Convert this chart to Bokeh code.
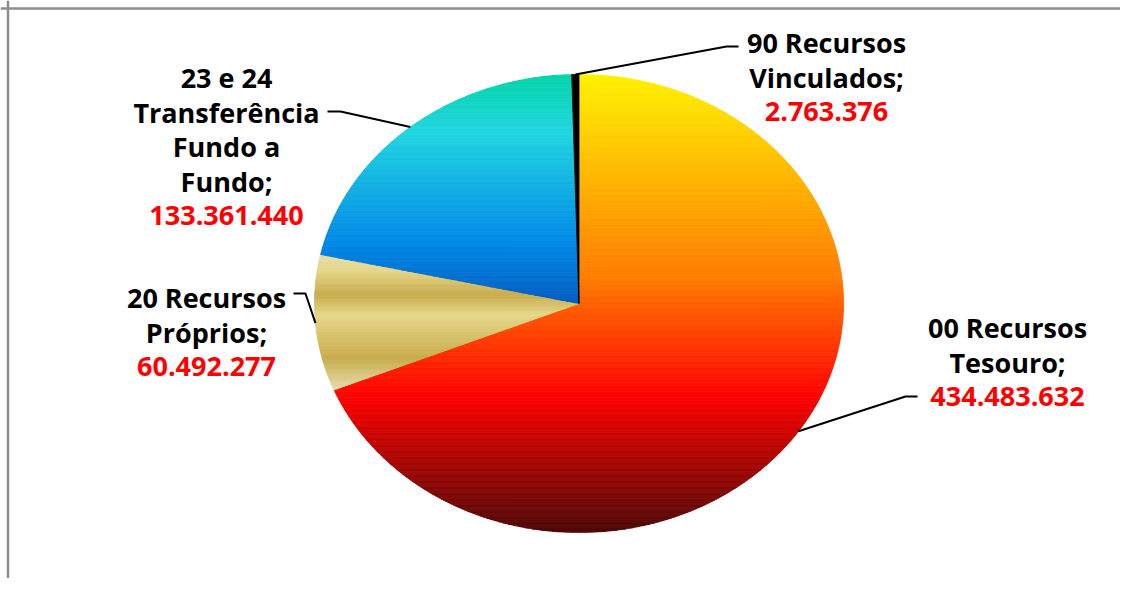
import numpy as np
from bokeh.plotting import figure
from bokeh.models import Range1d, Span
from bokeh.core.properties import value
from bokeh.embed import file_html
from bokeh.resources import INLINE

# ---------------- data ----------------
categories = ["00 Recursos Tesouro", "20 Recursos Próprios",
              "23 e 24 Transferência Fundo a Fundo", "90 Recursos Vinculados"]
name_lines = [["00 Recursos", "Tesouro;"],
              ["20 Recursos", "Próprios;"],
              ["23 e 24", "Transferência", "Fundo a", "Fundo;"],
              ["90 Recursos", "Vinculados;"]]
values = [434483632, 60492277, 133361440, 2763376]

# gradient presets (Excel "Fire", "Gold", "Ocean") + solid black
gradients = [
    [(0.0, "#FFF200"), (0.45, "#FF7A00"), (0.70, "#FF0300"), (1.0, "#4D0808")],
    [(0.0, "#E6DCAC"), (0.12, "#E6D78A"), (0.30, "#C7AC4C"), (0.45, "#E6D78A"),
     (0.77, "#C7AC4C"), (1.0, "#E6DCAC")],
    [(0.0, "#03D4A8"), (0.25, "#21D6E0"), (0.75, "#0087E6"), (1.0, "#005CBF")],
    [(0.0, "#000000"), (1.0, "#000000")],
]

# ---------------- layout ----------------
W, H = 1120, 578
CX, CY, RX, RY = 578.5, 303.0, 264.5, 229.0
label_anchor = [(1007, 327), (206, 297), (226, 77), (826, 42)]   # centre x, first baseline
elbows = [((905, 396), (917, 396)), ((305, 293), (293, 293)),
          ((340, 111), (327, 111)), ((726, 46), (738, 46))]
LINE_H = 34.5

p = figure(width=W, height=H, x_range=Range1d(0, W), y_range=Range1d(H, 0),
           output_backend="svg", toolbar_location=None, min_border=0)
p.axis.visible = False
p.grid.visible = False
p.outline_line_color = None
p.background_fill_color = "white"
p.border_fill_color = "white"


def hex2rgb(h):
    h = h.lstrip("#")
    return np.array([int(h[i:i + 2], 16) for i in (0, 2, 4)], dtype=float)


def grad_color(stops, t):
    t = min(max(t, 0.0), 1.0)
    for (t0, c0), (t1, c1) in zip(stops[:-1], stops[1:]):
        if t <= t1:
            f = 0 if t1 == t0 else (t - t0) / (t1 - t0)
            c = hex2rgb(c0) * (1 - f) + hex2rgb(c1) * f
            return "#%02x%02x%02x" % tuple(int(round(v)) for v in c)
    return stops[-1][1]


def clip(pts, inside, inter):
    out = []
    for i in range(len(pts)):
        cur, prev = pts[i], pts[i - 1]
        if inside(cur):
            if not inside(prev):
                out.append(inter(prev, cur))
            out.append(cur)
        elif inside(prev):
            out.append(inter(prev, cur))
    return out


def at_y(yc):
    def f(a, b):
        t = (yc - a[1]) / (b[1] - a[1])
        return (a[0] + t * (b[0] - a[0]), yc)
    return f


def clip_band(pts, y0, y1):
    pts = clip(pts, lambda q: q[1] >= y0, at_y(y0))
    if len(pts) < 3:
        return []
    pts = clip(pts, lambda q: q[1] <= y1, at_y(y1))
    return pts if len(pts) >= 3 else []


vals = np.array(values, dtype=float)
frac = vals / vals.sum()
ends = np.cumsum(frac) * 360.0
starts = ends - frac * 360.0

bx, by, bc = [], [], []
for i in range(len(values)):
    a0, a1 = starts[i], ends[i]
    n = max(int((a1 - a0) / 0.4), 2)
    ang = np.radians(np.linspace(a0, a1, n + 1))
    pts = [(CX, CY)] + list(zip(CX + RX * np.sin(ang), CY - RY * np.cos(ang)))
    ys = [q[1] for q in pts]
    ymin, ymax = min(ys), max(ys)
    nb = max(int((ymax - ymin) / 1.2), 1) if len(set(c for _, c in gradients[i])) > 1 else 1
    edges = np.linspace(ymin, ymax, nb + 1)
    for k in range(nb):
        poly = clip_band(pts, edges[k], edges[k + 1]) if nb > 1 else pts
        if not poly:
            continue
        tmid = ((edges[k] + edges[k + 1]) / 2 - ymin) / (ymax - ymin)
        col = grad_color(gradients[i], tmid)
        bx.append([q[0] for q in poly])
        by.append([q[1] for q in poly])
        bc.append(col)

p.patches(bx, by, fill_color=bc, line_color=bc, line_width=0.8)

# leader lines
lx, ly = [], []
for i in range(len(values)):
    mid = np.radians((starts[i] + ends[i]) / 2)
    px, py = CX + RX * np.sin(mid), CY - RY * np.cos(mid)
    (ex, ey), (fx, fy) = elbows[i]
    lx.append([px, ex, fx])
    ly.append([py, ey, fy])
p.multi_line(lx, ly, line_color="black", line_width=2)

# labels
tx, ty, tt, tc = [], [], [], []
for i in range(len(values)):
    x0, y0 = label_anchor[i]
    lines = name_lines[i] + [f"{values[i]:,}".replace(",", ".")]
    for j, s in enumerate(lines):
        tx.append(x0)
        ty.append(y0 + j * LINE_H)
        tt.append(s)
        tc.append("#FF0000" if j == len(lines) - 1 else "#000000")
p.text(x=tx, y=ty, text=tt, text_color=tc, text_align="center",
       text_baseline="alphabetic", text_font=value("Open Sans"),
       text_font_style="bold", text_font_size="27px")

# frame (top and left edges)
p.add_layout(Span(location=8, dimension="width", line_color="#8c8c8c", line_width=2.5))
p.add_layout(Span(location=7.5, dimension="height", line_color="#8c8c8c", line_width=2.5))

open("out.html", "w").write(file_html(p, INLINE))
